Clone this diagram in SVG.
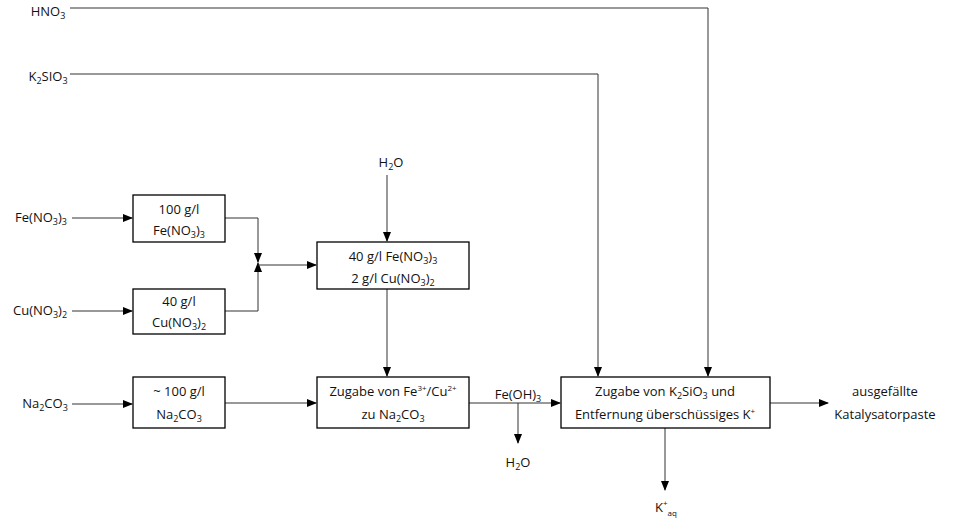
<svg xmlns="http://www.w3.org/2000/svg" width="960" height="529" viewBox="0 0 960 529">
<style>
text{font-family:"Open Sans","Liberation Sans",sans-serif;font-size:13px;fill:#111;text-anchor:middle}
.b{fill:#fff;stroke:#000;stroke-width:1.3}
line,polyline{stroke:#333;stroke-width:1;fill:none}
</style>
<defs><marker id="a" markerWidth="10" markerHeight="8" refX="9" refY="4" orient="auto" markerUnits="userSpaceOnUse"><path d="M0,0L10,4L0,8z" fill="#000"/></marker></defs>
<rect width="960" height="529" fill="#fff"/>
<g id="connectors">
<polyline points="70,8 708,8 708,376" marker-end="url(#a)"/>
<polyline points="70,74 598,74 598,376" marker-end="url(#a)"/>
<line x1="72" y1="218" x2="132" y2="218" marker-end="url(#a)"/>
<line x1="72" y1="311" x2="132" y2="311" marker-end="url(#a)"/>
<line x1="72" y1="404" x2="132" y2="404" marker-end="url(#a)"/>
<polyline points="225,218 258,218 258,262" marker-end="url(#a)"/>
<polyline points="225,311 258,311 258,263" marker-end="url(#a)"/>
<line x1="258" y1="265" x2="316" y2="265" marker-end="url(#a)"/>
<line x1="387" y1="175" x2="387" y2="241" marker-end="url(#a)"/>
<line x1="387" y1="289" x2="387" y2="376" marker-end="url(#a)"/>
<line x1="225" y1="403" x2="316" y2="403" marker-end="url(#a)"/>
<line x1="469" y1="403" x2="560" y2="403" marker-end="url(#a)"/>
<line x1="518" y1="403" x2="518" y2="443" marker-end="url(#a)"/>
<line x1="665" y1="428" x2="665" y2="490" marker-end="url(#a)"/>
<line x1="770" y1="403" x2="828" y2="403" marker-end="url(#a)"/>
</g>
<g id="labels">
<text x="48" y="16">HNO<tspan font-size="9" dy="3">3</tspan></text>
<text x="48" y="81">K<tspan font-size="9" dy="3">2</tspan><tspan dy="-3">SIO</tspan><tspan font-size="9" dy="3">3</tspan></text>
<text x="41" y="222">Fe(NO<tspan font-size="9" dy="3">3</tspan><tspan dy="-3">)</tspan><tspan font-size="9" dy="3">3</tspan></text>
<text x="40" y="315">Cu(NO<tspan font-size="9" dy="3">3</tspan><tspan dy="-3">)</tspan><tspan font-size="9" dy="3">2</tspan></text>
<text x="45" y="408">Na<tspan font-size="9" dy="3">2</tspan><tspan dy="-3">CO</tspan><tspan font-size="9" dy="3">3</tspan></text>
<text x="391" y="167">H<tspan font-size="9" dy="3">2</tspan><tspan dy="-3">O</tspan></text>
<text x="518" y="399">Fe(OH)<tspan font-size="9" dy="3">3</tspan></text>
<text x="518" y="467">H<tspan font-size="9" dy="3">2</tspan><tspan dy="-3">O</tspan></text>
<text x="666" y="512">K<tspan font-size="8" dy="-6">+</tspan><tspan font-size="8" dy="10">aq</tspan></text>
<text x="885" y="396">ausgefällte</text>
<text x="885" y="419">Katalysatorpaste</text>
</g>
<g id="n1"><rect class="b" x="133" y="195" width="92" height="47"/><text x="179" y="214">100 g/l</text><text x="179" y="235">Fe(NO<tspan font-size="9" dy="3">3</tspan><tspan dy="-3">)</tspan><tspan font-size="9" dy="3">3</tspan></text></g>
<g id="n2"><rect class="b" x="133" y="289" width="92" height="45"/><text x="179" y="306">40 g/l</text><text x="179" y="327">Cu(NO<tspan font-size="9" dy="3">3</tspan><tspan dy="-3">)</tspan><tspan font-size="9" dy="3">2</tspan></text></g>
<g id="n3"><rect class="b" x="133" y="377" width="92" height="51"/><text x="179" y="396">~ 100 g/l</text><text x="179" y="419">Na<tspan font-size="9" dy="3">2</tspan><tspan dy="-3">CO</tspan><tspan font-size="9" dy="3">3</tspan></text></g>
<g id="n4"><rect class="b" x="317" y="242" width="152" height="47"/><text x="393" y="261">40 g/l Fe(NO<tspan font-size="9" dy="3">3</tspan><tspan dy="-3">)</tspan><tspan font-size="9" dy="3">3</tspan></text><text x="393" y="283">2 g/l Cu(NO<tspan font-size="9" dy="3">3</tspan><tspan dy="-3">)</tspan><tspan font-size="9" dy="3">2</tspan></text></g>
<g id="n5"><rect class="b" x="317" y="377" width="152" height="51"/><text x="393" y="396">Zugabe von Fe<tspan font-size="8" dy="-5">3+</tspan><tspan dy="5">/Cu</tspan><tspan font-size="8" dy="-5">2+</tspan></text><text x="393" y="419">zu Na<tspan font-size="9" dy="3">2</tspan><tspan dy="-3">CO</tspan><tspan font-size="9" dy="3">3</tspan></text></g>
<g id="n6"><rect class="b" x="561" y="377" width="209" height="51"/><text x="665" y="396">Zugabe von K<tspan font-size="9" dy="3">2</tspan><tspan dy="-3">SiO</tspan><tspan font-size="9" dy="3">3</tspan><tspan dy="-3"> und</tspan></text><text x="665" y="419">Entfernung überschüssiges K<tspan font-size="8" dy="-5">+</tspan></text></g>
</svg>
